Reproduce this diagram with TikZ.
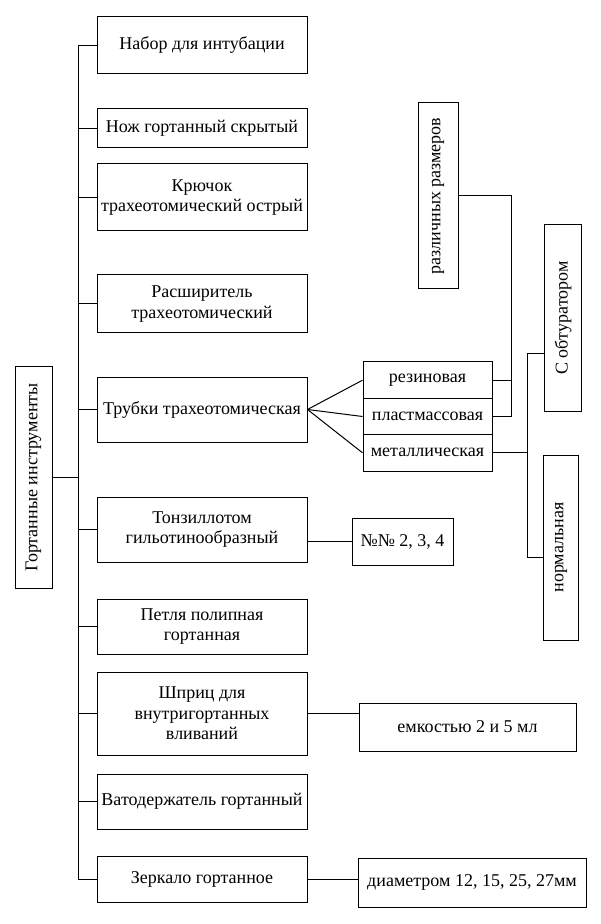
\documentclass[tikz,border=0pt]{standalone}
\usepackage{fontspec}
\setmainfont{Liberation Serif}

\begin{document}
\begin{tikzpicture}[x=0.5pt,y=-0.5pt,
  box/.style={rectangle,draw,line width=0.5pt,inner sep=1pt,align=center,
    font=\fontsize{9}{10.3}\selectfont},
  lbox/.style={box,minimum width=105pt},
  sbox/.style={box,minimum width=64.5pt,minimum height=18.2pt},
  link/.style={draw,line width=0.5pt}]
\useasboundingbox (0,0) rectangle (600,924);
\node(root)[box,rotate=90,minimum width=110.5pt,minimum height=18.5pt] at (33.5,477.5){Гортанные инструменты};
\node(nabor)[lbox,minimum height=28.5pt] at (202,45.5){Набор для интубации};
\node(nozh)[lbox,minimum height=19.5pt] at (202,128.5){Нож гортанный скрытый};
\node(kryuch)[lbox,minimum height=33.5pt] at (202,197.5){Крючок\\трахеотомический острый};
\node(rassh)[lbox,minimum height=29pt] at (202,304){Расширитель\\трахеотомический};
\node(trub)[lbox,minimum height=32.5pt] at (202,409.5){Трубки трахеотомическая};
\node(tonz)[lbox,minimum height=32.5pt] at (202,529.5){Тонзиллотом\\гильотинообразный};
\node(petlya)[lbox,minimum height=27.5pt] at (202,626.5){Петля полипная\\гортанная};
\node(shpric)[lbox,minimum height=41.5pt] at (202,713.5){Шприц для\\внутригортанных\\вливаний};
\node(vatod)[lbox,minimum height=27.5pt] at (202,801.5){Ватодержатель гортанный};
\node(zerk)[lbox,minimum height=23pt] at (202,879){Зеркало гортанное};
\node(rez)[sbox] at (427.5,380.2){резиновая};
\node(plast)[sbox] at (427.5,416.5){пластмассовая};
\node(metal)[sbox] at (427.5,452.8){металлическая};
\node(razm)[box,rotate=90,minimum width=93pt,minimum height=20pt] at (438,196){различных размеров};
\node(obt)[box,rotate=90,minimum width=93pt,minimum height=18.5pt] at (563,318){С обтуратором};
\node(norm)[box,rotate=90,minimum width=92.5pt,minimum height=17.5pt] at (561,547.5){нормальная};
\node(nums)[box,minimum width=50.5pt,minimum height=23.5pt] at (402.5,541.5){№№ 2, 3, 4};
\node(emk)[box,minimum width=108.5pt,minimum height=24pt] at (467.5,727){емкостью 2 и 5 мл};
\node(diam)[box,minimum width=114pt,minimum height=24.5pt] at (472,882.5){диаметром 12, 15, 25, 27мм};
\coordinate(spinetop) at (78,45.5);
\coordinate(spinebot) at (78,879);
\coordinate(rj) at (511,196);
\coordinate(mtop) at (527,354);
\coordinate(mbot) at (527,557);
\path[link] (spinetop) -- (spinebot);
\path[link] (root.south) -- (root.south -| spinetop);
\foreach \n in {nabor,nozh,kryuch,rassh,trub,tonz,petlya,shpric,vatod,zerk}
  \path[link] (\n.west) -- (\n.west -| spinetop);
\path[link] (trub.east) -- (rez.west);
\path[link] (trub.east) -- (plast.west);
\path[link] (trub.east) -- (metal.west);
\path[link] (razm.south) -- (rj) -- (plast.east -| rj) -- (plast.east);
\path[link] (rez.east) -- (rez.east -| rj);
\path[link] (metal.east) -- (metal.east -| mtop);
\path[link] (mtop) -- (mtop -| obt.north);
\path[link] (mtop) -- (mbot) -- (mbot -| norm.north);
\path[link] (nums.west) -- (tonz.east |- nums.west);
\path[link] (shpric.east) -- (shpric.east -| emk.west);
\path[link] (zerk.east) -- (zerk.east -| diam.west);
\end{tikzpicture}
\end{document}
